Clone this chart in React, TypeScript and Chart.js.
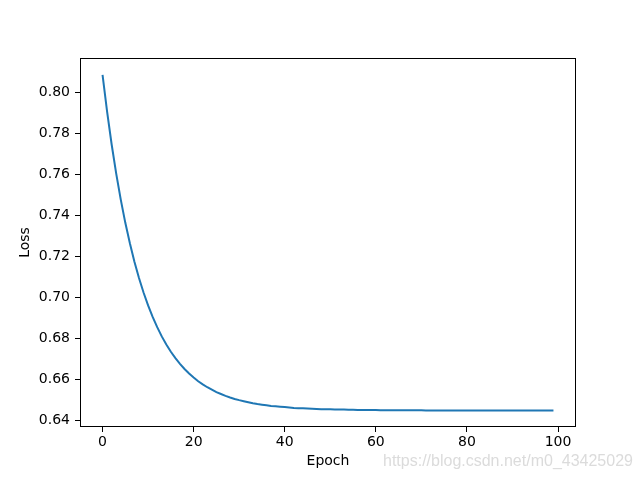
import React, { useEffect, useRef } from "react";
import { Chart, registerables } from "chart.js";

Chart.register(...registerables);

const epochs: number[] = Array.from({ length: 100 }, (_, i) => i);
const loss: number[] = [
  0.8084, 0.7904, 0.7744, 0.7602, 0.7475, 0.7362, 0.7262, 0.7172, 0.7093, 0.7022,
  0.6959, 0.6903, 0.6853, 0.6808, 0.6768, 0.6733, 0.6702, 0.6674, 0.6649, 0.6627,
  0.6607, 0.6589, 0.6574, 0.656, 0.6548, 0.6536, 0.6527, 0.6518, 0.651, 0.6503,
  0.6497, 0.6492, 0.6487, 0.6482, 0.6478, 0.6475, 0.6472, 0.6469, 0.6467, 0.6465,
  0.6463, 0.6461, 0.6459, 0.6458, 0.6457, 0.6456, 0.6455, 0.6454, 0.6453, 0.6453,
  0.6452, 0.6451, 0.6451, 0.6451, 0.645, 0.645, 0.6449, 0.6449, 0.6449, 0.6449,
  0.6449, 0.6448, 0.6448, 0.6448, 0.6448, 0.6448, 0.6448, 0.6448, 0.6448, 0.6448,
  0.6448, 0.6447, 0.6447, 0.6447, 0.6447, 0.6447, 0.6447, 0.6447, 0.6447, 0.6447,
  0.6447, 0.6447, 0.6447, 0.6447, 0.6447, 0.6447, 0.6447, 0.6447, 0.6447, 0.6447,
  0.6447, 0.6447, 0.6447, 0.6447, 0.6447, 0.6447, 0.6447, 0.6447, 0.6447, 0.6447,
];
const xTicks: number[] = [0, 20, 40, 60, 80, 100];
const yTicks: number[] = [0.64, 0.66, 0.68, 0.7, 0.72, 0.74, 0.76, 0.78, 0.8];
const xLabel = "Epoch";
const yLabel = "Loss";
const watermark = "https://blog.csdn.net/m0_43425029";

const FONT = "'DejaVu Sans', sans-serif";

const frame = {
  id: "frame",
  afterDraw(chart: any) {
    const { ctx, chartArea } = chart;
    ctx.save();
    ctx.strokeStyle = "#000";
    ctx.lineWidth = 1;
    const l = Math.round(chartArea.left) + 0.5;
    const t = Math.round(chartArea.top) + 0.5;
    const r = Math.round(chartArea.right) - 0.5;
    const b = Math.round(chartArea.bottom) - 0.5;
    ctx.strokeRect(l, t, r - l, b - t);
    ctx.font = "16px 'Liberation Sans', Arial, sans-serif";
    ctx.fillStyle = "rgba(215,215,215,0.9)";
    ctx.textBaseline = "middle";
    ctx.textAlign = "left";
    ctx.fillText(watermark, 383, 462);
    ctx.restore();
  },
};

export default function App() {
  const ref = useRef<HTMLCanvasElement>(null);
  useEffect(() => {
    if (!ref.current) return;
    const chart = new Chart(ref.current, {
      type: "line",
      data: {
        datasets: [
          {
            data: epochs.map((e, i) => ({ x: e, y: loss[i] })),
            borderColor: "#1f77b4",
            borderWidth: 2,
            pointRadius: 0,
            fill: false,
            tension: 0,
          },
        ],
      },
      options: {
        animation: false,
        responsive: false,
        devicePixelRatio: 1,
        layout: { padding: { top: 58, right: 64, left: 0, bottom: 0 } },
        plugins: { legend: { display: false }, tooltip: { enabled: false } },
        scales: {
          x: {
            type: "linear",
            min: -4.95,
            max: 103.95,
            afterBuildTicks: (s: any) => {
              s.ticks = xTicks.map((v) => ({ value: v }));
            },
            afterFit: (s: any) => {
              s.height = 53;
            },
            ticks: {
              color: "#000",
              font: { family: FONT, size: 14 },
              padding: 2,
              maxRotation: 0,
              autoSkip: false,
              callback: (v: any) => String(v),
            },
            grid: {
              display: true,
              drawOnChartArea: false,
              drawTicks: true,
              tickLength: 5,
              tickColor: "#000",
              tickWidth: 1,
            },
            border: { display: false },
            title: {
              display: true,
              text: xLabel,
              color: "#000",
              font: { family: FONT, size: 14 },
              padding: { top: 0, bottom: 10 },
            },
          },
          y: {
            type: "linear",
            min: 0.6366,
            max: 0.8166,
            afterBuildTicks: (s: any) => {
              s.ticks = yTicks.map((v) => ({ value: v }));
            },
            afterFit: (s: any) => {
              s.width = 80;
            },
            ticks: {
              color: "#000",
              font: { family: FONT, size: 14 },
              padding: 5,
              autoSkip: false,
              callback: (v: any) => Number(v).toFixed(2),
            },
            grid: {
              display: true,
              drawOnChartArea: false,
              drawTicks: true,
              tickLength: 5,
              tickColor: "#000",
              tickWidth: 1,
            },
            border: { display: false },
            title: {
              display: true,
              text: yLabel,
              color: "#000",
              font: { family: FONT, size: 14 },
              padding: { top: 17, bottom: 0 },
            },
          },
        },
      },
      plugins: [frame],
    });
    return () => chart.destroy();
  }, []);
  return (
    <div style={{ position: "absolute", left: 0, top: 0, width: 640, height: 480, background: "#fff" }}>
      <canvas ref={ref} width={640} height={480} style={{ width: 640, height: 480 }} />
    </div>
  );
}
